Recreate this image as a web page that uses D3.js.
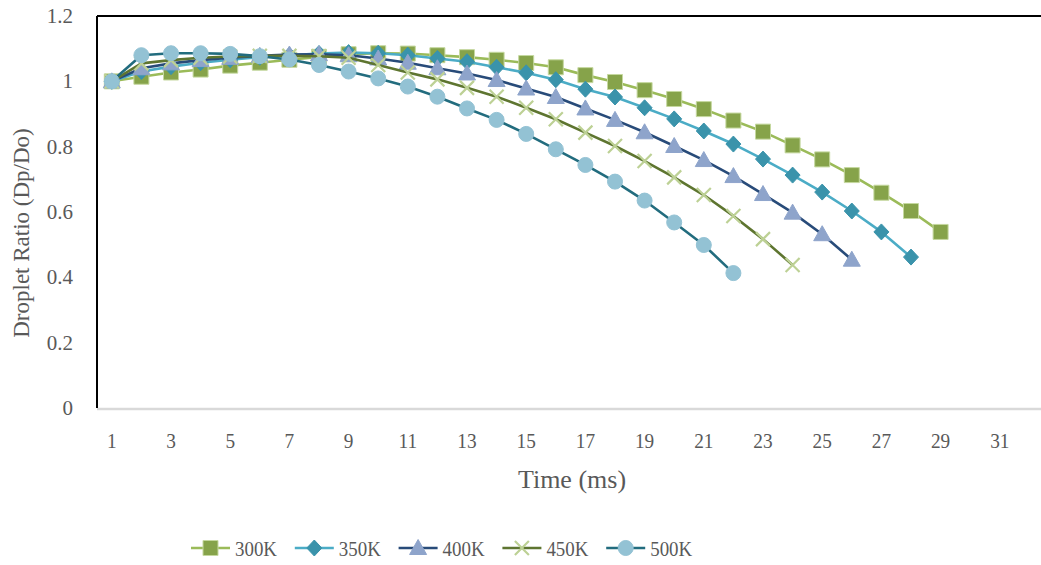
<!DOCTYPE html>
<html>
<head>
<meta charset="utf-8">
<script src="https://cdn.jsdelivr.net/npm/d3@7"></script>
<style>
  html, body { margin: 0; padding: 0; background: #fff; }
  svg { display: block; }
  text { font-family: "Liberation Serif", "Times New Roman", serif; fill: #595959; }
</style>
</head>
<body>
<svg id="chart" width="1041" height="565"></svg>
<script>
// Time categories (ms) and the x tick labels shown
const timeSteps = d3.range(1, 33);
const xTickLabels = [1, 3, 5, 7, 9, 11, 13, 15, 17, 19, 21, 23, 25, 27, 29, 31];
const yTickValues = [0, 0.2, 0.4, 0.6, 0.8, 1, 1.2];

// Droplet ratio Dp/Do per gas temperature, starting at t = 1 ms
const ratio300K = [1.0, 1.014, 1.027, 1.036, 1.048, 1.057, 1.066, 1.075, 1.083, 1.086, 1.085, 1.080, 1.074,
  1.066, 1.056, 1.043, 1.019, 0.998, 0.973, 0.946, 0.915, 0.880, 0.846, 0.804, 0.761, 0.713, 0.659, 0.603, 0.539];
const ratio350K = [1.0, 1.030, 1.045, 1.057, 1.066, 1.074, 1.080, 1.085, 1.088, 1.086, 1.080, 1.070, 1.060,
  1.043, 1.026, 1.005, 0.976, 0.952, 0.919, 0.885, 0.848, 0.808, 0.762, 0.713, 0.661, 0.603, 0.539, 0.462];
const ratio400K = [1.0, 1.040, 1.055, 1.065, 1.072, 1.078, 1.082, 1.083, 1.080, 1.070, 1.057, 1.040, 1.024,
  1.004, 0.978, 0.952, 0.917, 0.882, 0.844, 0.802, 0.759, 0.710, 0.655, 0.598, 0.532, 0.454];
const ratio450K = [1.0, 1.055, 1.065, 1.072, 1.076, 1.078, 1.078, 1.077, 1.072, 1.050, 1.027, 1.006, 0.980,
  0.953, 0.919, 0.884, 0.843, 0.802, 0.756, 0.706, 0.652, 0.588, 0.517, 0.438];
const ratio500K = [1.0, 1.080, 1.086, 1.086, 1.084, 1.077, 1.067, 1.050, 1.030, 1.009, 0.984, 0.953, 0.917,
  0.882, 0.839, 0.792, 0.744, 0.693, 0.635, 0.568, 0.499, 0.413];

const seriesNames = ["300K", "350K", "400K", "450K", "500K"];
const seriesValues = [ratio300K, ratio350K, ratio400K, ratio450K, ratio500K];

// Styling per series: line colour, marker fill, marker shape
const styles = [
  { line: "#9bbb59", fill: "#86a34a", stroke: "#c5d89f", shape: "square" },
  { line: "#4bacc6", fill: "#3a93ab", stroke: "#3a93ab", shape: "diamond" },
  { line: "#284b79", fill: "#8ea4cb", stroke: "#8ea4cb", shape: "triangle" },
  { line: "#5e7530", fill: "none",    stroke: "#bdd195", shape: "x" },
  { line: "#226c7e", fill: "#93c2d4", stroke: "#93c2d4", shape: "circle" }
];

const plot = { left: 97, top: 16, bottom: 408 };
plot.right = plot.left + timeSteps.length * 29.6;

const svg = d3.select("#chart");

const x = d3.scaleBand().domain(timeSteps).range([plot.left, plot.right]);
const xc = t => x(t) + x.bandwidth() / 2;
const y = d3.scaleLinear().domain([0, 1.2]).range([plot.bottom, plot.top]);

// Marker path generator, centred on the origin
function markerPath(shape) {
  const p = d3.path();
  if (shape === "square") {
    p.rect(-7.5, -7.5, 15, 15);
  } else if (shape === "diamond") {
    p.moveTo(0, -8); p.lineTo(7.5, 0); p.lineTo(0, 8); p.lineTo(-7.5, 0); p.closePath();
  } else if (shape === "triangle") {
    p.moveTo(0, -8.5); p.lineTo(8.5, 6.5); p.lineTo(-8.5, 6.5); p.closePath();
  } else if (shape === "x") {
    p.moveTo(-7, -7); p.lineTo(7, 7); p.moveTo(7, -7); p.lineTo(-7, 7);
  } else {
    p.arc(0, 0, 7.5, 0, 2 * Math.PI);
  }
  return p.toString();
}

function drawMarker(g, st) {
  return g.append("path")
    .attr("d", markerPath(st.shape))
    .attr("fill", st.fill)
    .attr("stroke", st.stroke)
    .attr("stroke-width", st.shape === "x" ? 2.2 : 1);
}

// Text placed at (px, py), optionally narrowed horizontally
function label(parent, px, py, str, anchor, size, squeeze = 1) {
  return parent.append("text")
    .attr("transform", `translate(${px},${py}) scale(${squeeze},1)`)
    .attr("text-anchor", anchor)
    .attr("font-size", size)
    .text(str);
}

// Axis frame: grey category axis, black left and top edges
svg.append("line")
  .attr("x1", plot.left).attr("x2", 1041)
  .attr("y1", plot.bottom + 1).attr("y2", plot.bottom + 1)
  .attr("stroke", "#d9d9d9").attr("stroke-width", 2.5);
svg.append("line")
  .attr("x1", plot.left).attr("x2", plot.left)
  .attr("y1", plot.top).attr("y2", plot.bottom)
  .attr("stroke", "#000").attr("stroke-width", 2);
svg.append("line")
  .attr("x1", plot.left).attr("x2", 1041)
  .attr("y1", plot.top).attr("y2", plot.top)
  .attr("stroke", "#000").attr("stroke-width", 2);

// Y tick labels (right-aligned, no tick marks)
const yTicks = svg.append("g").attr("class", "y-ticks");
yTickValues.forEach(v => {
  label(yTicks, plot.left - 24, y(v) + 7, d3.format("")(v), "end", 21);
});

// X tick labels on every other category
const xTicks = svg.append("g").attr("class", "x-ticks");
xTickLabels.forEach(t => {
  label(xTicks, xc(t), plot.bottom + 40, String(t), "middle", 21, 0.92);
});

// Axis titles
label(svg, 572, 488, "Time (ms)", "middle", 26);
svg.append("text")
  .attr("transform", "translate(29,233) rotate(-90)")
  .attr("text-anchor", "middle").attr("font-size", 23)
  .text("Droplet Ratio (Dp/Do)");

// Series lines and markers
const line = d3.line().x(d => xc(d.t)).y(d => y(d.v));
seriesValues.forEach((vals, i) => {
  const st = styles[i];
  const pts = vals.map((v, k) => ({ t: timeSteps[k], v }));
  const g = svg.append("g").attr("class", "series");
  g.append("path").datum(pts)
    .attr("d", line)
    .attr("fill", "none")
    .attr("stroke", st.line)
    .attr("stroke-width", 2.6)
    .attr("stroke-linejoin", "round");
  pts.forEach(p => {
    const mg = g.append("g").attr("transform", `translate(${xc(p.t)},${y(p.v)})`);
    drawMarker(mg, st);
  });
});

// Legend along the bottom
const legendY = 548;
const legendX0 = 191;
const legendStep = 103.8;
seriesNames.forEach((name, i) => {
  const st = styles[i];
  const g = svg.append("g").attr("transform", `translate(${legendX0 + i * legendStep},${legendY})`);
  g.append("line").attr("x1", 0).attr("x2", 39).attr("y1", 0).attr("y2", 0)
    .attr("stroke", st.line).attr("stroke-width", 2.6);
  const mg = g.append("g").attr("transform", "translate(19.5,0)");
  drawMarker(mg, st);
  label(g, 44, 8, name, "start", 22, 0.86);
});
</script>
</body>
</html>
